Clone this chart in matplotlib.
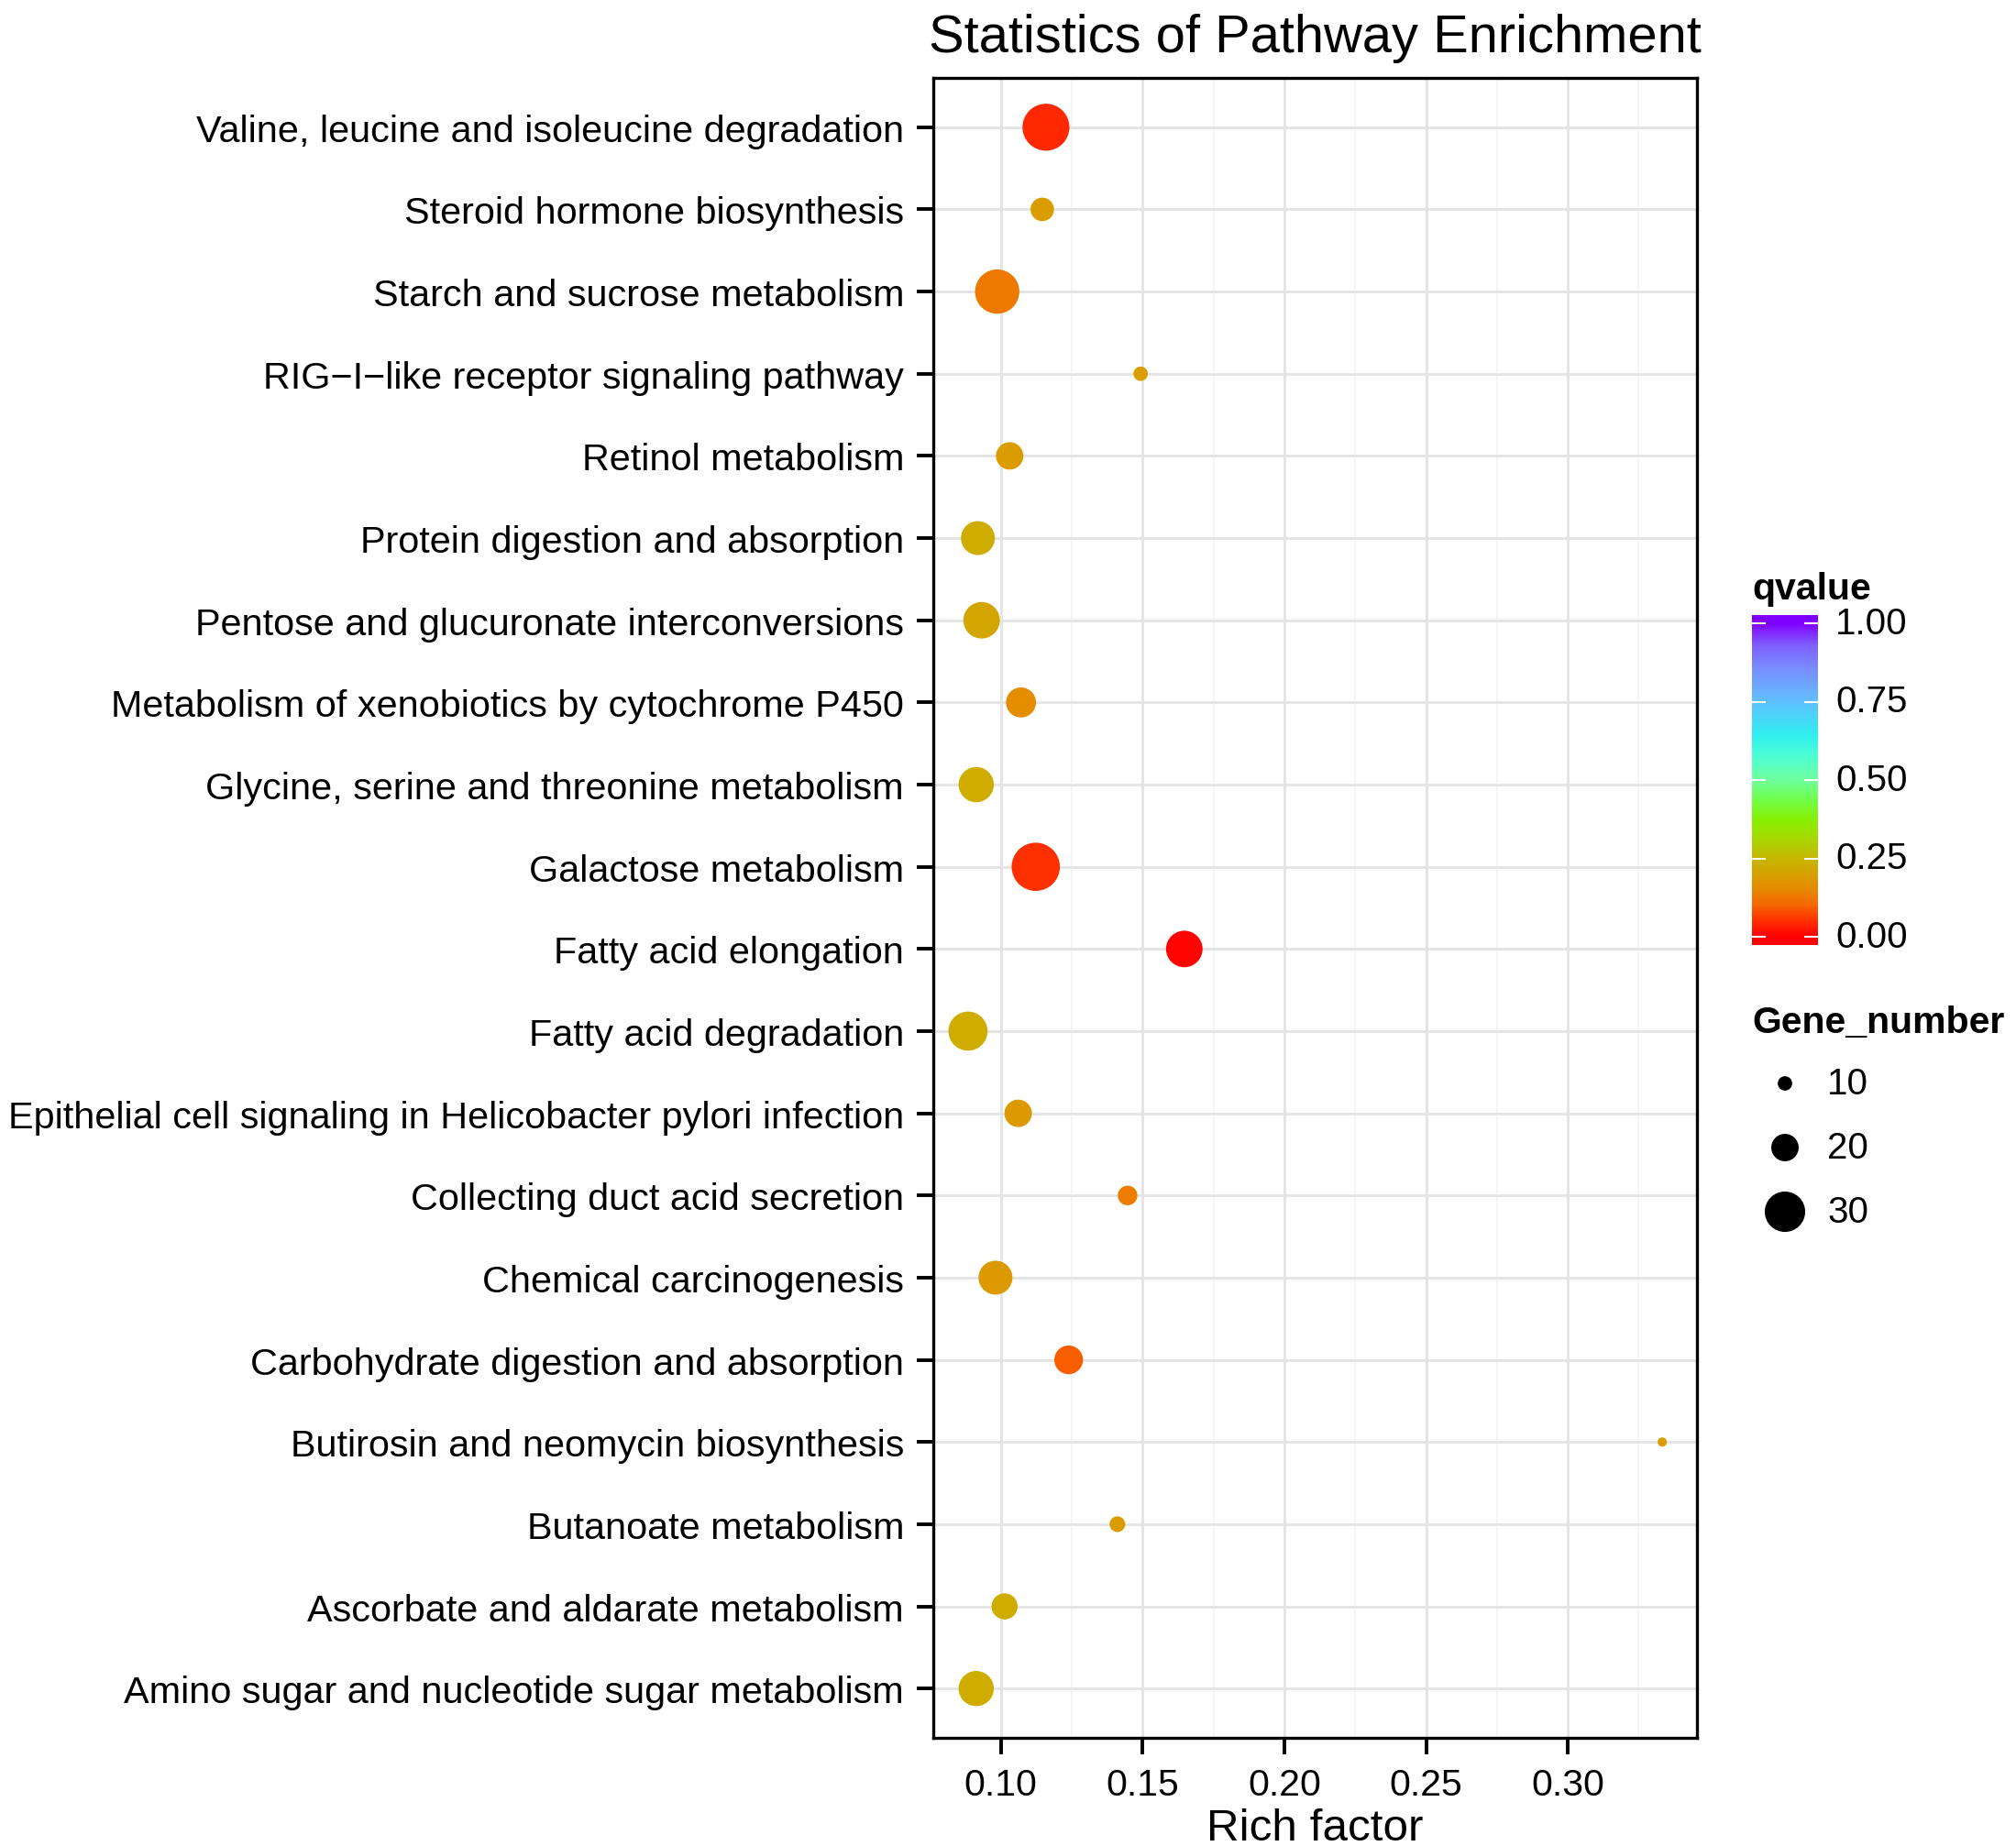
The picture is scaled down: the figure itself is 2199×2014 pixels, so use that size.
import numpy as np
import matplotlib
matplotlib.use("Agg")
import matplotlib.pyplot as plt
from matplotlib.colors import LinearSegmentedColormap, Normalize

# pathways listed top to bottom as they appear
pathways = [
    "Valine, leucine and isoleucine degradation",
    "Steroid hormone biosynthesis",
    "Starch and sucrose metabolism",
    "RIG\u2212I\u2212like receptor signaling pathway",
    "Retinol metabolism",
    "Protein digestion and absorption",
    "Pentose and glucuronate interconversions",
    "Metabolism of xenobiotics by cytochrome P450",
    "Glycine, serine and threonine metabolism",
    "Galactose metabolism",
    "Fatty acid elongation",
    "Fatty acid degradation",
    "Epithelial cell signaling in Helicobacter pylori infection",
    "Collecting duct acid secretion",
    "Chemical carcinogenesis",
    "Carbohydrate digestion and absorption",
    "Butirosin and neomycin biosynthesis",
    "Butanoate metabolism",
    "Ascorbate and aldarate metabolism",
    "Amino sugar and nucleotide sugar metabolism",
]
rich_factor = [0.1159, 0.1146, 0.0987, 0.1493, 0.1031, 0.0919, 0.0932, 0.1071,
               0.0913, 0.1123, 0.1647, 0.0884, 0.1061, 0.1447, 0.0981, 0.1239,
               0.3333, 0.1411, 0.1013, 0.0913]
qvalue = [0.04, 0.19, 0.125, 0.19, 0.19, 0.225, 0.21, 0.16,
          0.225, 0.05, 0.005, 0.225, 0.18, 0.13, 0.18, 0.09,
          0.19, 0.19, 0.225, 0.225]
gene_number = [35, 17, 33, 10, 20, 25, 27, 22,
               26, 36, 27, 29, 20, 14, 25, 21,
               6, 11, 19, 26]

x_breaks = [0.10, 0.15, 0.20, 0.25, 0.30]
x_minor = [0.125, 0.175, 0.225, 0.275, 0.325]
q_breaks = [0.0, 0.25, 0.5, 0.75, 1.0]
size_breaks = [10, 20, 30]

W, H, DPI = 2199, 2015, 100
plt.rcParams['font.family'] = ['Liberation Sans', 'DejaVu Sans']


def fx(px):
    return px / W


def fy(py):
    return 1 - py / H


def marker_area(g):
    # diameter grows linearly with gene count (ggplot-style size scale)
    d_px = 1.5 + 1.42 * np.asarray(g, dtype=float)
    return (d_px * 72 / DPI) ** 2


qcmap = LinearSegmentedColormap.from_list("qvalue", [
    (0.00, "#FF0000"), (0.05, "#FF3300"), (0.10, "#F66800"), (0.15, "#E68A00"),
    (0.20, "#D6A200"), (0.25, "#C6B800"), (0.31, "#A8D800"), (0.37, "#88F000"),
    (0.44, "#70FF50"), (0.50, "#70FFA0"), (0.57, "#50FFD0"), (0.64, "#30F0F0"),
    (0.75, "#60C0FF"), (0.85, "#7890FF"), (0.93, "#8060FF"), (1.00, "#8000FF"),
])
norm = Normalize(0, 1)

fig = plt.figure(figsize=(W / DPI, H / DPI), dpi=DPI, facecolor="white")

# main panel
L, R, T, B = 1018, 1851, 86, 1897
ax = fig.add_axes([fx(L), fy(B), (R - L) / W, (B - T) / H])
y = np.arange(len(pathways))
ax.scatter(rich_factor, y, s=marker_area(gene_number), c=qvalue,
           cmap=qcmap, norm=norm, linewidths=0, zorder=3)

lo, hi = min(rich_factor), max(rich_factor)
pad = 0.05 * (hi - lo)
ax.set_xlim(lo - pad, hi + pad)
ax.set_ylim(len(pathways) - 1 + 0.6, -0.6)

ax.set_yticks(y)
ax.set_yticklabels(pathways, fontsize=29.8)
ax.set_xticks(x_breaks)
ax.set_xticklabels([f"{v:.2f}" for v in x_breaks], fontsize=29.5)
ax.set_xticks(x_minor, minor=True)

ax.grid(which="major", color="#E4E4E4", linewidth=2.0)
ax.grid(which="minor", axis="x", color="#F3F3F3", linewidth=1.2)
ax.set_axisbelow(True)
ax.tick_params(which="major", length=13, width=2.8, pad=10, color="black")
ax.tick_params(which="minor", length=0)
for sp in ax.spines.values():
    sp.set_linewidth(2.4)

fig.text(fx((L + R) / 2), fy(57), "Statistics of Pathway Enrichment",
         ha="center", va="baseline", fontsize=41.7)
fig.text(fx((L + R) / 2), fy(2008), "Rich factor",
         ha="center", va="baseline", fontsize=35.6)

# colour bar for qvalue
cb_l, cb_t, cb_w, cb_h = 1911, 672, 72, 360
cax = fig.add_axes([fx(cb_l), fy(cb_t + cb_h), cb_w / W, cb_h / H])
ext = 0.5 / 19
grad = np.linspace(-ext, 1 + ext, 400).reshape(-1, 1)
cax.imshow(grad, cmap=qcmap, norm=norm, aspect="auto", origin="lower",
           extent=[0, 1, -ext, 1 + ext])
cax.set_xlim(0, 1)
cax.set_ylim(-ext, 1 + ext)
cax.axis("off")
for b in q_breaks:
    cax.plot([0, 0.2], [b, b], color="white", linewidth=1.5)
    cax.plot([0.8, 1], [b, b], color="white", linewidth=1.5)
    cax.text((2002 - cb_l) / cb_w, b, f"{b:.2f}", transform=cax.get_yaxis_transform(),
             ha="left", va="center", fontsize=29)

fig.text(fx(1911), fy(654), "qvalue", ha="left", va="baseline",
         fontsize=29.5, fontweight="bold")
fig.text(fx(1911), fy(1127), "Gene_number", ha="left", va="baseline",
         fontsize=29.5, fontweight="bold")

# size legend
lax = fig.add_axes([0, 0, 1, 1])
lax.set_xlim(0, W)
lax.set_ylim(H, 0)
lax.axis("off")
key_y = 1183 + 70 * np.arange(len(size_breaks))
lax.scatter([1947] * len(size_breaks), key_y, s=marker_area(size_breaks),
            c="black", linewidths=0)
for g, ky in zip(size_breaks, key_y):
    lax.text(1993, ky, str(g), ha="left", va="center", fontsize=29)

fig.savefig("out.png", dpi=DPI, facecolor="white")
